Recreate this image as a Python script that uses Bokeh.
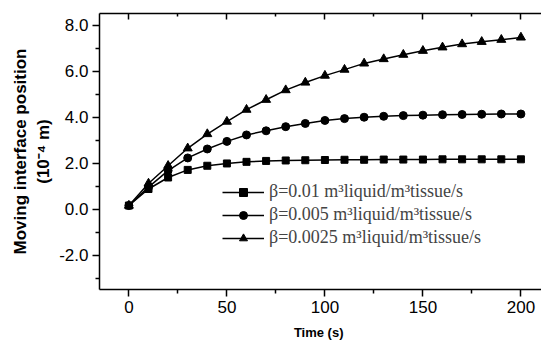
from bokeh.plotting import figure
from bokeh.models import LinearAxis, Legend, LegendItem, NumeralTickFormatter, FixedTicker, Range1d
from bokeh.embed import file_html
from bokeh.resources import INLINE

time = [0, 10, 20, 30, 40, 50, 60, 70, 80, 90, 100, 110, 120, 130, 140, 150, 160, 170, 180, 190, 200]
beta_001 = [0.15, 0.87, 1.37, 1.70, 1.88, 1.98, 2.05, 2.09, 2.11, 2.12, 2.13, 2.14, 2.14, 2.15, 2.15, 2.15, 2.16, 2.16, 2.16, 2.16, 2.16]
beta_0005 = [0.15, 0.95, 1.67, 2.22, 2.61, 2.94, 3.22, 3.40, 3.58, 3.72, 3.85, 3.93, 3.99, 4.03, 4.06, 4.08, 4.10, 4.11, 4.12, 4.13, 4.13]
beta_00025 = [0.15, 1.11, 1.88, 2.64, 3.26, 3.80, 4.32, 4.75, 5.17, 5.50, 5.80, 6.06, 6.33, 6.52, 6.71, 6.88, 7.03, 7.17, 7.27, 7.36, 7.46]
labels = ["β=0.01 m³liquid/m³tissue/s", "β=0.005 m³liquid/m³tissue/s", "β=0.0025 m³liquid/m³tissue/s"]
x_major = [0, 50, 100, 150, 200]
x_minor = [25, 75, 125, 175]
y_major = [-2, 0, 2, 4, 6, 8]
y_minor = [-3, -1, 1, 3, 5, 7]

p = figure(width=541, height=347, output_backend="svg", toolbar_location=None,
           x_range=Range1d(-15, 210.5), y_range=Range1d(-3.5, 8.5),
           min_border_left=99, min_border_right=0, min_border_top=13, min_border_bottom=58,
           x_axis_label="Time  (s)", y_axis_label="Moving interface position\n(10⁻⁴ m)")
p.outline_line_color = None
p.grid.visible = False
p.background_fill_color = "white"
p.border_fill_color = "white"

for ax in [p.xaxis[0], p.yaxis[0]]:
    ax.axis_line_width = 1.5
    ax.major_tick_line_width = 1.5
    ax.minor_tick_line_width = 1.5
    ax.major_tick_out = 7
    ax.major_tick_in = 0
    ax.minor_tick_out = 4
    ax.minor_tick_in = 0
    ax.major_label_text_font = "Liberation Sans"
    ax.major_label_text_font_size = "17px"
    ax.major_label_text_color = "black"
    ax.axis_label_text_font = "Liberation Sans"
    ax.axis_label_text_font_style = "bold"
    ax.axis_label_text_color = "black"

p.xaxis.ticker = FixedTicker(ticks=x_major, minor_ticks=x_minor)
p.yaxis.ticker = FixedTicker(ticks=y_major, minor_ticks=y_minor)
p.yaxis.formatter = NumeralTickFormatter(format="0.0")
p.xaxis.major_label_standoff = 4
p.yaxis.major_label_standoff = 4
p.xaxis.axis_label_text_font_size = "13px"
p.xaxis.axis_label_standoff = 9
p.yaxis.axis_label_text_font_size = "17px"
p.yaxis.axis_label_standoff = 3

top = LinearAxis(ticker=FixedTicker(ticks=x_major, minor_ticks=x_minor),
                 major_label_overrides={t: "" for t in x_major},
                 axis_line_width=1.5, major_tick_line_width=1.5, minor_tick_line_width=1.5,
                 major_tick_in=6, major_tick_out=0, minor_tick_in=3, minor_tick_out=0)
p.add_layout(top, "above")

series = [(beta_001, "square", 7), (beta_0005, "circle", 8), (beta_00025, "triangle", 9)]
items = []
for (vals, mk, sz), lab in zip(series, labels):
    l = p.line(time, vals, line_color="black", line_width=1.5)
    s = p.scatter(time, vals, marker=mk, size=sz, fill_color="black", line_color="black")
    items.append(LegendItem(label=lab, renderers=[l, s]))

legend = Legend(items=items, location=(123, 41), padding=0, margin=0, spacing=2,
                glyph_width=42, glyph_height=20, label_height=20, label_standoff=5,
                label_text_font="Liberation Serif", label_text_font_size="18px",
                border_line_color=None, background_fill_alpha=0)
p.add_layout(legend, "center")

open("out.html", "w").write(file_html(p, INLINE))
